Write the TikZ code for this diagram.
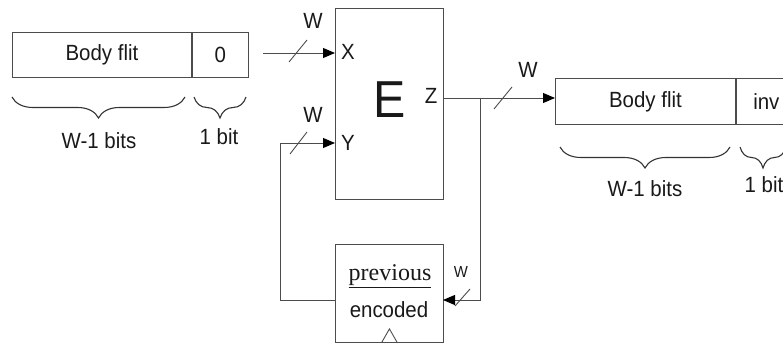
\documentclass[tikz,border=0pt]{standalone}
\usepackage{fontspec}
\setmainfont{Liberation Sans}[FakeStretch=0.93]
\newfontfamily\prevfont{Liberation Serif}
\usepackage{tikz}
\usetikzlibrary{arrows.meta,positioning,calc,decorations.pathreplacing}

\begin{document}
\begin{tikzpicture}[
  x=1pt, y=-1pt,
  font=\fontsize{22}{25}\selectfont,
  wire/.style={draw=black!70, line width=0.9pt},
  cell/.style={wire, inner sep=0pt, text=black!90},
  block/.style={wire, inner sep=0pt},
  bus/.style={wire, -{Triangle[length=12pt, width=10pt, color=black]}},
  bracedown/.style={draw=black!80, line width=1.1pt, decorate, decoration={brace, mirror, amplitude=21pt}},
  lbl/.style={inner sep=0pt, text=black!90}
]
\useasboundingbox (0,0) rectangle (783,347);
\clip (0,0) rectangle (783,347);
% input flit
\node[cell, minimum width=179pt, minimum height=45pt, anchor=north west] (lbody) at (12,32) {Body flit};
\node[cell, minimum width=56pt, minimum height=45pt, right=0pt of lbody] (lzero) {0};
\draw[bracedown] (12,97) -- (185,97);
\draw[bracedown] (194,97) -- (246,97);
\node[lbl] (lwbits) at (99,141) {W-1 bits};
\node[lbl] (lonebit) at (219,137) {1 bit};
% encoder and register
\node[block, minimum width=108pt, minimum height=191pt, anchor=north west] (enc) at (335,8) {};
\node[lbl, font=\fontsize{52}{58}\selectfont] (elbl) at (390,100) {E};
\node[lbl] (xlbl) at (348,52) {X};
\node[lbl] (ylbl) at (348,143) {Y};
\node[lbl] (zlbl) at (431,96) {Z};
\node[block, minimum width=108pt, minimum height=98pt, anchor=north west] (prev) at (335,244) {};
\node[lbl, font=\fontsize{24}{27}\selectfont] (prevtop) at (390,276) {\prevfont\underline{previous}};
\node[lbl] (prevbot) at (389,310) {encoded};
\draw[wire] ([xshift=-8pt]prev.south) -- ++(8,-14) -- ++(8,14);
% output flit
\node[cell, minimum width=180pt, minimum height=46pt, anchor=north west] (rbody) at (555,78) {Body flit};
\node[cell, minimum width=60pt, minimum height=46pt, right=0pt of rbody] (rinv) {inv};
\draw[bracedown] (560,147) -- (730,147);
\draw[bracedown] (740,147) -- (786,147);
\node[lbl] (rwbits) at (645,189) {W-1 bits};
\node[lbl] (ronebit) at (764,185) {1 bit};
% connections
\coordinate (xin) at (263,53);
\coordinate (yport) at (335,143);
\coordinate (corner) at (280,143);
\coordinate (zport) at (443,98);
\coordinate (tap) at (480,98);
\coordinate (fbin) at (443,300);
\coordinate (fbout) at (335,300);
\draw[bus] (xin) -- (xin -| enc.west);
\draw[bus] (zport) -- (rbody.west |- zport);
\draw[bus] (tap) -- (tap |- fbin) -- (fbin);
\draw[bus] (fbout) -- (corner |- fbout) -- (corner) -- (yport);
% bus widths
\draw[wire] (289,62) -- (307,40);
\draw[wire] (290,154) -- (307,132);
\draw[wire] (494,109) -- (512,87);
\draw[wire] (455,306) -- (470,289);
\node[lbl] (wx) at (313,21) {W};
\node[lbl] (wy) at (313,115) {W};
\node[lbl] (wz) at (528,70) {W};
\node[lbl, font=\fontsize{16}{18}\selectfont] (wfb) at (461,272) {W};
\end{tikzpicture}
\end{document}
